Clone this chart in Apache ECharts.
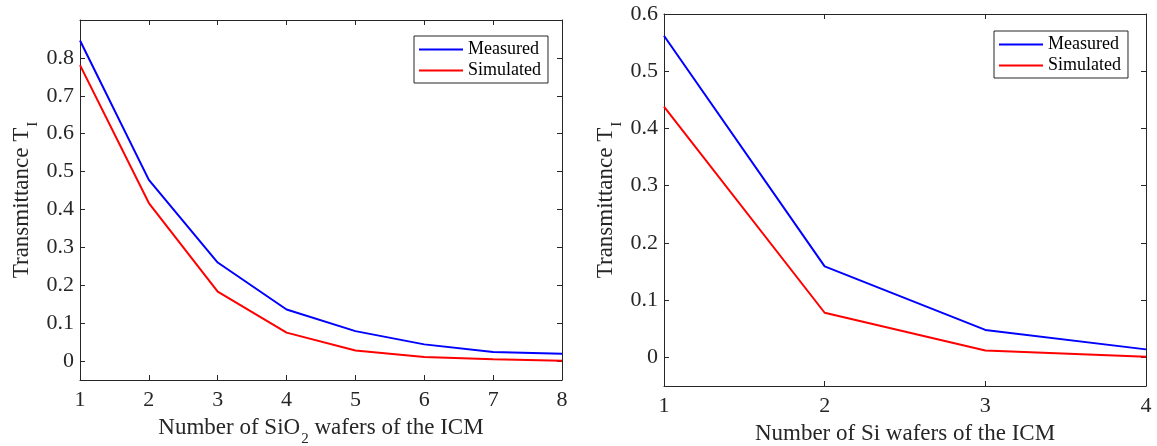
<!DOCTYPE html>
<html>
<head>
<meta charset="utf-8">
<script src="https://cdn.jsdelivr.net/npm/echarts@6/dist/echarts.min.js"></script>
<style>
  html, body { margin: 0; padding: 0; background: #fff; }
  #chart { width: 1157px; height: 446px; }
</style>
</head>
<body>
<div id="chart"></div>
<script>
// left panel: SiO2 wafers
var sio2Wafers = [1, 2, 3, 4, 5, 6, 7, 8];
var sio2Measured = [0.846, 0.478, 0.26, 0.136, 0.079, 0.044, 0.024, 0.019];
var sio2Simulated = [0.781, 0.417, 0.183, 0.075, 0.028, 0.011, 0.005, 0.001];
var sio2YTicks = [0, 0.1, 0.2, 0.3, 0.4, 0.5, 0.6, 0.7, 0.8];

// right panel: Si wafers
var siWafers = [1, 2, 3, 4];
var siMeasured = [0.562, 0.159, 0.048, 0.014];
var siSimulated = [0.438, 0.078, 0.012, 0.001];
var siYTicks = [0, 0.1, 0.2, 0.3, 0.4, 0.5, 0.6];

var FONT = 'Liberation Serif';
var AXC = '#262626';

function pairs(xs, ys) {
  return xs.map(function(x, i) { return [x, ys[i]]; });
}

function nameRich() {
  return {
    m: { fontFamily: FONT, fontSize: 23, color: AXC, lineHeight: 26 },
    s: { fontFamily: FONT, fontSize: 15, color: AXC, verticalAlign: 'bottom', lineHeight: 15, padding: [0, 0, -6, 1] }
  };
}

function xAxes(grid, max, name, top) {
  var base = {
    type: 'value', gridIndex: grid, min: 1, max: max, interval: 1,
    splitLine: { show: false },
    axisLine: { show: true, onZero: false, lineStyle: { color: AXC, width: 1 } },
    axisTick: { show: true, inside: true, length: 5, lineStyle: { color: AXC } }
  };
  if (top) {
    return Object.assign({}, base, { position: 'top', axisLabel: { show: false } });
  }
  return Object.assign({}, base, {
    position: 'bottom',
    name: name, nameLocation: 'middle', nameGap: 35,
    nameTextStyle: { fontFamily: FONT, rich: nameRich() },
    axisLabel: { fontFamily: FONT, fontSize: 22, color: AXC, margin: 9 }
  });
}

function yAxes(grid, max, ticks, right) {
  var base = {
    type: 'value', gridIndex: grid, min: -0.05, max: max,
    splitLine: { show: false },
    axisLine: { show: true, onZero: false, lineStyle: { color: AXC, width: 1 } },
    axisTick: { show: true, inside: true, length: 5, customValues: ticks, lineStyle: { color: AXC } }
  };
  if (right) {
    return Object.assign({}, base, { position: 'right', axisLabel: { show: false, customValues: ticks } });
  }
  return Object.assign({}, base, {
    position: 'left',
    name: '{m|Transmittance T}{s|I}', nameLocation: 'middle', nameGap: 45, nameRotate: 90,
    nameTextStyle: { fontFamily: FONT, rich: nameRich() },
    axisLabel: { fontFamily: FONT, fontSize: 22, color: AXC, margin: 6, customValues: ticks }
  });
}

function legendAt(left, top) {
  return {
    data: ['Measured', 'Simulated'],
    orient: 'vertical', left: left, top: top,
    icon: 'rect', itemWidth: 44, itemHeight: 2, itemGap: 0,
    padding: [3, 7, 2, 5],
    borderColor: AXC, borderWidth: 1, borderRadius: 0, backgroundColor: '#fff',
    textStyle: { fontFamily: FONT, fontSize: 18, color: '#000', lineHeight: 21 }
  };
}

function line(name, color, data, xi, yi) {
  return {
    name: name, type: 'line', data: data, xAxisIndex: xi, yAxisIndex: yi,
    showSymbol: false, symbol: 'none', color: color,
    lineStyle: { color: color, width: 2 }
  };
}

var chart = echarts.init(document.getElementById('chart'), null, { renderer: 'canvas' });
chart.setOption({
  animation: false,
  backgroundColor: '#fff',
  textStyle: { fontFamily: FONT },
  grid: [
    { left: 80, top: 20, width: 482, height: 360, outerBoundsMode: 'none', containLabel: false },
    { left: 664, top: 14, width: 482, height: 372, outerBoundsMode: 'none', containLabel: false }
  ],
  xAxis: [
    xAxes(0, 8, '{m|Number of SiO}{s|2}{m| wafers of the ICM}', false),
    xAxes(0, 8, '', true),
    xAxes(1, 4, '{m|Number of Si wafers of the ICM}', false),
    xAxes(1, 4, '', true)
  ],
  yAxis: [
    yAxes(0, 0.9, sio2YTicks, false),
    yAxes(0, 0.9, sio2YTicks, true),
    yAxes(1, 0.6, siYTicks, false),
    yAxes(1, 0.6, siYTicks, true)
  ],
  legend: [legendAt(414, 36), legendAt(994, 31)],
  series: [
    line('Measured', '#0000ff', pairs(sio2Wafers, sio2Measured), 0, 0),
    line('Simulated', '#ff0000', pairs(sio2Wafers, sio2Simulated), 0, 0),
    line('Measured', '#0000ff', pairs(siWafers, siMeasured), 2, 2),
    line('Simulated', '#ff0000', pairs(siWafers, siSimulated), 2, 2)
  ]
});
</script>
</body>
</html>
